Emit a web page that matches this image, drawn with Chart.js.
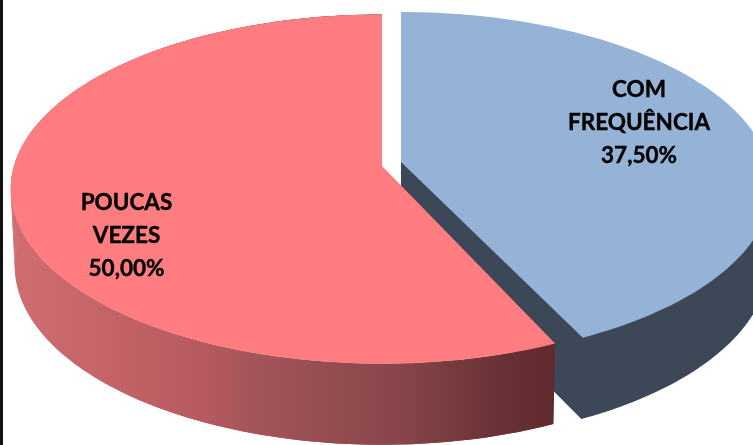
<!DOCTYPE html>
<html>
<head>
<meta charset="utf-8">
<title>Pie</title>
<script src="https://cdn.jsdelivr.net/npm/chart.js@4"></script>
<style>
  html, body { margin:0; padding:0; background:#fff; overflow:hidden; }
  #wrap { position:relative; width:753px; height:445px; }
  #strip { position:absolute; left:0; top:0; width:3px; height:445px; background:#111; }
</style>
</head>
<body>
<div id="wrap">
  <canvas id="pie" width="753" height="445"></canvas>
  <div id="strip"></div>
</div>
<script>
// Data
const categories = ['COM FREQUÊNCIA', 'POUCAS VEZES'];
const values = [37.5, 50];
const labelLines = [['COM', 'FREQUÊNCIA'], ['POUCAS', 'VEZES']];

// Look of each slice
const topColors = ['#95b3d7', '#ff7c80'];
const blueWall = '#3c4857';
const redWallStops = [[0, '#cf6c70'], [0.33, '#b85b60'], [0.43, '#a5555a'], [0.71, '#87464a'], [0.89, '#693236'], [1, '#5f2a2e']];

// Perspective box of each slice (the 3D look Excel gives)
const boxes = [
  { cx:401, cy:162, R:367, A:170.7, c:-0.138, cyB:238, RB:364, AB:176, trim:0 },
  { cx:382, cy:166, R:368, A:171.6, c:-0.132, cyB:242, RB:364, AB:176, trim:0.022 }
];
const labelSpots = [{ x:639, y:90 }, { x:126.5, y:203 }];
const lineGap = 33;

const project = (b, a, low) => {
  const d = 1 + b.c * Math.sin(a);
  return low
    ? { x:b.cx + b.RB * Math.cos(a) / d, y:b.cyB + b.AB * Math.sin(a) / d }
    : { x:b.cx + b.R * Math.cos(a) / d, y:b.cy + b.A * Math.sin(a) / d };
};

const curve = (b, from, to, low) => {
  const pts = [];
  const n = 120;
  for (let i = 0; i <= n; i++) pts.push(project(b, from + (to - from) * i / n, low));
  return pts;
};

const fillPts = (ctx, pts, fill) => {
  ctx.beginPath();
  pts.forEach((p, i) => i ? ctx.lineTo(p.x, p.y) : ctx.moveTo(p.x, p.y));
  ctx.closePath();
  ctx.fillStyle = fill;
  ctx.fill();
};

const pie3d = {
  id:'pie3d',
  beforeDatasetDraw(chart) {
    const ctx = chart.ctx;
    const arcs = chart.getDatasetMeta(0).data;
    arcs.forEach((arc, i) => {
      const b = boxes[i];
      const start = arc.startAngle + b.trim;
      const top = curve(b, start, arc.endAngle, false);
      const low = curve(b, start, arc.endAngle, true);
      const apex = { x:b.cx, y:b.cy };
      if (i === 0) {
        // blue: cut side and round side as one shape, top face covers the rest
        fillPts(ctx, [apex, { x:b.cx, y:b.cyB }].concat(low.slice().reverse()), blueWall);
      } else {
        const grad = ctx.createLinearGradient(20, 0, 557, 0);
        redWallStops.forEach(s => grad.addColorStop(s[0], s[1]));
        fillPts(ctx, top.concat(low.slice().reverse()), grad);
        // strips fill the notch where the top and bottom edges fold at the far left
        for (let k = 0; k < top.length - 1; k++) {
          fillPts(ctx, [top[k], top[k + 1], low[k + 1], low[k]], grad);
        }
      }
      fillPts(ctx, [apex].concat(top), topColors[i]);
    });
    return false;
  },
  afterDraw(chart) {
    const ctx = chart.ctx;
    ctx.save();
    ctx.font = '700 22.5px Lato';
    ctx.fillStyle = '#000';
    ctx.strokeStyle = '#000';
    ctx.lineWidth = 0.4;
    ctx.textAlign = 'center';
    ctx.textBaseline = 'middle';
    values.forEach((v, i) => {
      const lines = labelLines[i].concat(v.toFixed(2).replace('.', ',') + '%');
      lines.forEach((t, k) => {
        ctx.fillText(t, labelSpots[i].x, labelSpots[i].y + k * lineGap);
        ctx.strokeText(t, labelSpots[i].x, labelSpots[i].y + k * lineGap);
      });
    });
    ctx.restore();
  }
};

new Chart(document.getElementById('pie').getContext('2d'), {
  type:'pie',
  data:{ labels:categories, datasets:[{ data:values, backgroundColor:topColors, borderWidth:0 }] },
  options:{
    responsive:false,
    animation:false,
    rotation:0,
    plugins:{ legend:{ display:false }, tooltip:{ enabled:false } }
  },
  plugins:[pie3d]
});
</script>
</body>
</html>
